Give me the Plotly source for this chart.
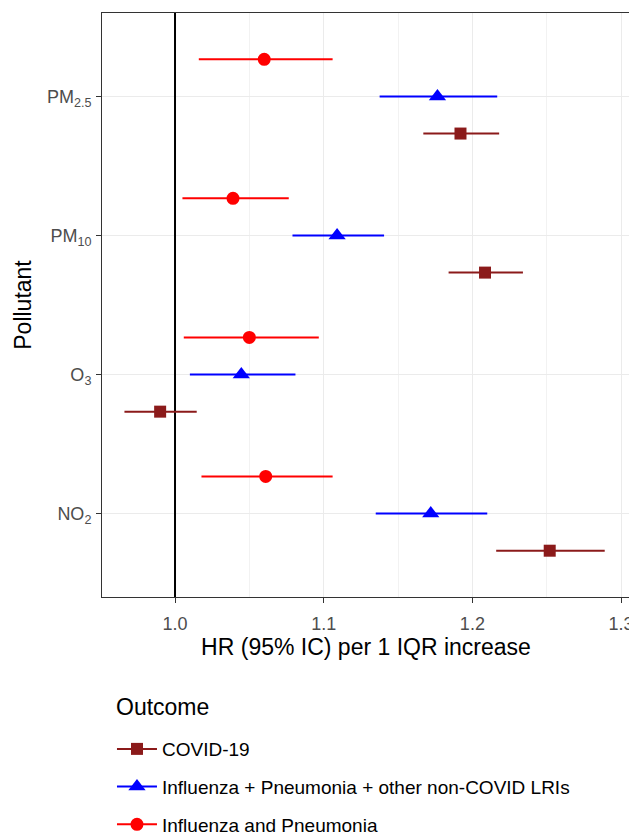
import plotly.graph_objects as go

pollutants = ["NO2", "O3", "PM10", "PM2.5"]
pollutant_labels = ["NO<sub>2</sub>", "O<sub>3</sub>", "PM<sub>10</sub>", "PM<sub>2.5</sub>"]

outcomes = ["COVID-19", "Influenza + Pneumonia + other non-COVID LRIs", "Influenza and Pneumonia"]

# HR, lower, upper per pollutant (order: NO2, O3, PM10, PM2.5)
covid_hr = [1.252, 0.990, 1.2085, 1.192]
covid_lo = [1.216, 0.966, 1.184, 1.167]
covid_hi = [1.289, 1.0146, 1.234, 1.218]

lri_hr = [1.172, 1.0446, 1.109, 1.1765]
lri_lo = [1.135, 1.010, 1.079, 1.1376]
lri_hi = [1.210, 1.081, 1.1406, 1.2167]

flu_hr = [1.061, 1.050, 1.039, 1.060]
flu_lo = [1.0178, 1.0059, 1.005, 1.016]
flu_hi = [1.106, 1.0967, 1.0765, 1.106]

x_ticks = [1.0, 1.1, 1.2, 1.3]
x_minor = [0.95, 1.05, 1.15, 1.25]
reference_hr = 1.0

# styles
colors = ["#8B1A1A", "#0000FF", "#FF0000"]
symbols = ["square", "triangle-up", "circle"]
msizes = [12, 15, 13]
offsets = [-0.267, 0.0, 0.267]
y_range = [0.4, 4.6]

series = [(covid_hr, covid_lo, covid_hi), (lri_hr, lri_lo, lri_hi), (flu_hr, flu_lo, flu_hi)]

FONT = "Liberation Sans, Arial, sans-serif"
TICK_SIZE = 18
TITLE_SIZE = 23
LEGEND_SIZE = 19

fig = go.Figure()

# reference line at HR = 1 (drawn first so points sit on top)
fig.add_trace(go.Scatter(
    x=[reference_hr, reference_hr], y=y_range, mode="lines",
    line=dict(color="black", width=2), showlegend=False, hoverinfo="skip",
))

for i, (hr, lo, hi) in enumerate(series):
    ypos = [k + 1 + offsets[i] for k in range(len(pollutants))]
    fig.add_trace(go.Scatter(
        x=hr, y=ypos, mode="markers",
        marker=dict(symbol=symbols[i], color=colors[i], size=msizes[i], line=dict(width=0)),
        error_x=dict(type="data", symmetric=False,
                     array=[h - v for h, v in zip(hi, hr)],
                     arrayminus=[v - l for v, l in zip(hr, lo)],
                     width=0, thickness=2, color=colors[i]),
        showlegend=False, hoverinfo="skip",
    ))

for i, name in enumerate(outcomes):
    fig.add_trace(go.Scatter(
        x=[None], y=[None], mode="lines+markers", name=name,
        legendgroup=name,
        line=dict(color=colors[i], width=2),
        marker=dict(symbol=symbols[i], color=colors[i], size=msizes[i]),
    ))

fig.add_annotation(
    text="Outcome", xref="paper", yref="paper",
    x=0.0227, y=-0.1884, xanchor="left", yanchor="middle",
    showarrow=False, font=dict(size=TITLE_SIZE, family=FONT, color="black"),
)

# page has an 8px body margin: figure is sized/margined to compensate
fig.update_layout(
    width=629, height=827,
    margin=dict(l=94, r=7, t=5, b=238, autoexpand=False),
    paper_bgcolor="white", plot_bgcolor="white",
    font=dict(family=FONT, color="black"),
    legend=dict(
        font=dict(size=LEGEND_SIZE, family=FONT, color="black"),
        orientation="v",
        x=0.0189, xanchor="left", y=-0.2278, yanchor="top",
        tracegroupgap=10,
        itemwidth=40,
    ),
    xaxis=dict(
        range=[0.9509, 1.306],
        automargin=False,
        tickvals=x_ticks, ticktext=[f"{v:.1f}" for v in x_ticks],
        tickfont=dict(size=TICK_SIZE, color="#4D4D4D", family=FONT),
        ticklabelstandoff=5,
        showgrid=True, gridcolor="#EBEBEB", gridwidth=1,
        minor=dict(tickvals=x_minor, showgrid=True, gridcolor="#F2F2F2", gridwidth=0.6, ticks=""),
        showline=True, linecolor="#333333", linewidth=1, mirror=True,
        ticks="outside", ticklen=5, tickcolor="#333333",
        zeroline=False,
        title=dict(text="HR (95% IC) per 1 IQR increase", font=dict(size=TITLE_SIZE, family=FONT, color="black"), standoff=0),
    ),
    yaxis=dict(
        range=y_range,
        automargin=False,
        tickvals=[1, 2, 3, 4], ticktext=pollutant_labels,
        tickfont=dict(size=TICK_SIZE, color="#4D4D4D", family=FONT),
        ticklabelstandoff=1,
        showgrid=True, gridcolor="#EBEBEB", gridwidth=1,
        showline=True, linecolor="#333333", linewidth=1, mirror=True,
        ticks="outside", ticklen=5, tickcolor="#333333",
        zeroline=False,
        title=dict(text="Pollutant", font=dict(size=TITLE_SIZE, family=FONT, color="black"), standoff=8),
    ),
)

fig.write_html("out.html")
